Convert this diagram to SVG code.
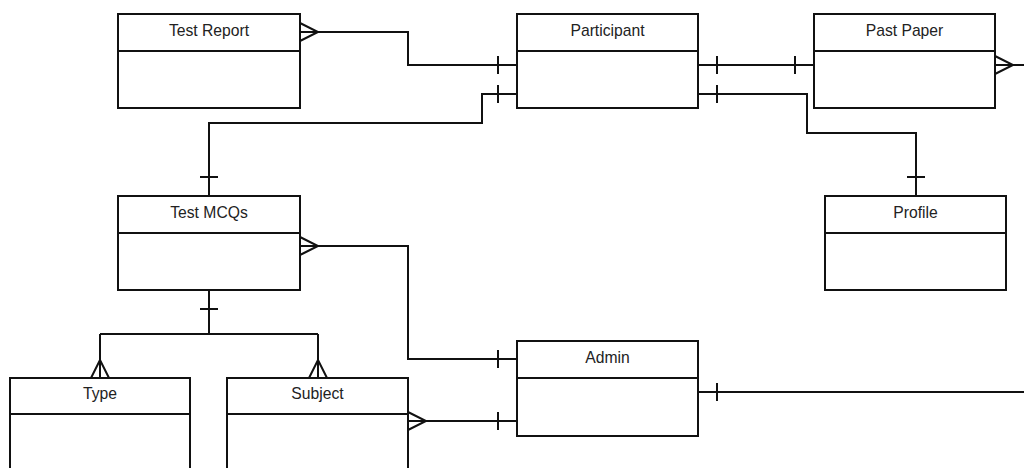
<svg xmlns="http://www.w3.org/2000/svg" width="1024" height="468" viewBox="0 0 1024 468">
<style>
.box{fill:#fff;stroke:#111;stroke-width:2}
.div{stroke:#111;stroke-width:2;fill:none}
.ln{fill:none;stroke:#111;stroke-width:2}
.t{font-family:"Liberation Sans",Arial,sans-serif;font-size:15.7px;fill:#222;text-anchor:middle}
</style>
<rect width="1024" height="468" fill="#fff"/>
<g id="connectors">
<path class="ln" d="M300,32 H408 V65 H517"/>
<path class="ln" d="M300,23 L318,32 L300,41"/>
<path class="ln" d="M498,56 V74"/>
<path class="ln" d="M517,94 H482 V123 H209 V196"/>
<path class="ln" d="M498,85 V103 M200,177 H218"/>
<path class="ln" d="M698,65 H814 M717,56 V74 M795,56 V74"/>
<path class="ln" d="M698,94 H807 V133 H916 V196 M717,85 V103 M907,177 H925"/>
<path class="ln" d="M995,65 H1024 M995,56 L1013,65 L995,74"/>
<path class="ln" d="M300,246 H408 V359 H517 M300,237 L318,246 L300,255 M498,350 V368"/>
<path class="ln" d="M209,290 V334 M100,334 H318 M100,334 V378 M318,334 V378 M200,309 H218"/>
<path class="ln" d="M91,378 L100,360 L109,378 M309,378 L318,360 L327,378"/>
<path class="ln" d="M408,421 H517 M408,412 L426,421 L408,430 M498,412 V430"/>
<path class="ln" d="M698,392 H1024 M717,383 V401"/>
</g>
<g id="test-report">
<rect class="box" x="118" y="14" width="182" height="94"/>
<line class="div" x1="118" y1="51" x2="300" y2="51"/>
<text class="t" x="209" y="36">Test Report</text>
</g>
<g id="participant">
<rect class="box" x="517" y="14" width="181" height="94"/>
<line class="div" x1="517" y1="51" x2="698" y2="51"/>
<text class="t" x="607.5" y="36">Participant</text>
</g>
<g id="past-paper">
<rect class="box" x="814" y="14" width="181" height="94"/>
<line class="div" x1="814" y1="51" x2="995" y2="51"/>
<text class="t" x="904.5" y="36">Past Paper</text>
</g>
<g id="profile">
<rect class="box" x="825" y="196" width="181" height="94"/>
<line class="div" x1="825" y1="233" x2="1006" y2="233"/>
<text class="t" x="915.5" y="218">Profile</text>
</g>
<g id="test-mcqs">
<rect class="box" x="118" y="196" width="182" height="94"/>
<line class="div" x1="118" y1="233" x2="300" y2="233"/>
<text class="t" x="209" y="218">Test MCQs</text>
</g>
<g id="admin">
<rect class="box" x="517" y="341" width="181" height="95"/>
<line class="div" x1="517" y1="378" x2="698" y2="378"/>
<text class="t" x="607.5" y="363">Admin</text>
</g>
<g id="type">
<rect class="box" x="10" y="378" width="180" height="94"/>
<line class="div" x1="10" y1="414" x2="190" y2="414"/>
<text class="t" x="100" y="399">Type</text>
</g>
<g id="subject">
<rect class="box" x="227" y="378" width="181" height="94"/>
<line class="div" x1="227" y1="414" x2="408" y2="414"/>
<text class="t" x="317.5" y="399">Subject</text>
</g>
</svg>
